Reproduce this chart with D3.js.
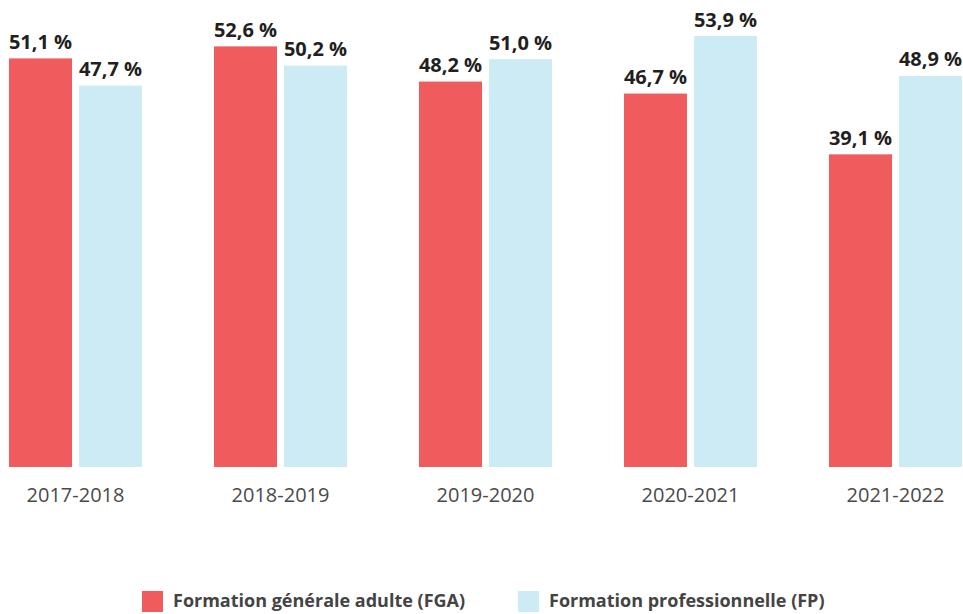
<!DOCTYPE html>
<html><head><meta charset="utf-8">
<script src="https://cdn.jsdelivr.net/npm/d3@7"></script>
<style>html,body{margin:0;padding:0;background:#fff;}</style>
</head><body>
<svg id="c" width="963" height="614"></svg>
<script>
const categories = ["2017-2018","2018-2019","2019-2020","2020-2021","2021-2022"];
const seriesNames = ["Formation générale adulte (FGA)","Formation professionnelle (FP)"];
const fga = [51.1, 52.6, 48.2, 46.7, 39.1];
const fp  = [47.7, 50.2, 51.0, 53.9, 48.9];
const colors = ["#f05b5e", "#cdebf4"];

const svg = d3.select("#c");
const x0 = d3.scaleBand().domain(categories).range([9, 962]).paddingInner(72/205).paddingOuter(0);
const x1 = d3.scaleBand().domain([0,1]).range([0, x0.bandwidth()]).paddingInner(0.1);
const y = d3.scaleLinear().domain([0, 53.9]).range([467, 36]);
const fmt = v => v.toFixed(1).replace(".", ",") + " %";

const data = categories.map((c,i)=>({cat:c, vals:[fga[i], fp[i]]}));
const g = svg.selectAll("g.grp").data(data).join("g").attr("class","grp")
  .attr("transform", d => `translate(${x0(d.cat)},0)`);
g.selectAll("rect").data(d => d.vals.map((v,k)=>({v,k}))).join("rect")
  .attr("x", d => x1(d.k)).attr("width", x1.bandwidth())
  .attr("y", d => y(d.v)).attr("height", d => y(0) - y(d.v))
  .attr("fill", d => colors[d.k]);
g.selectAll("text.lbl").data(d => d.vals.map((v,k)=>({v,k}))).join("text").attr("class","lbl")
  .attr("x", d => x1(d.k) + x1.bandwidth()/2).attr("y", d => y(d.v) - 9.5)
  .attr("text-anchor","middle").attr("font-family","Open Sans").attr("font-weight",700)
  .attr("font-size",20).attr("fill","#231f20").text(d => fmt(d.v));

const axis = d3.axisBottom(x0).tickSize(0).tickPadding(0);
const ax = svg.append("g").attr("transform","translate(0,467)").call(axis);
ax.select(".domain").remove();
ax.selectAll("text").attr("dy",null).attr("y",35).attr("font-family","Open Sans")
  .attr("font-size",20).attr("fill","#4a4a4a");

const legX = [142, 518];
const leg = svg.selectAll("g.leg").data(seriesNames).join("g").attr("class","leg")
  .attr("transform",(d,i)=>`translate(${legX[i]},591)`);
leg.append("rect").attr("width",21).attr("height",21).attr("fill",(d,i)=>colors[i]);
leg.append("text").attr("x",31).attr("y",16).attr("font-family","Open Sans").attr("font-weight",700)
  .attr("font-size",18).attr("fill","#444").text(d=>d);
</script>
</body></html>
